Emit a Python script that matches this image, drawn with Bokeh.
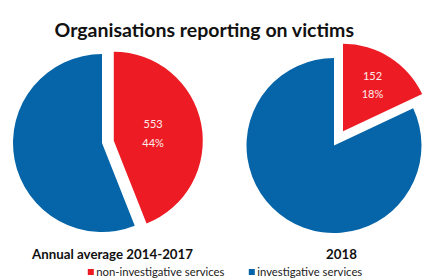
import math
from bokeh.plotting import figure
from bokeh.models import Range1d
from bokeh.core.properties import value
from bokeh.embed import file_html
from bokeh.resources import INLINE

# ---- data ----
title_text = "Organisations reporting on victims"
periods = ["Annual average 2014-2017", "2018"]
non_investigative_counts = [553, 152]
non_investigative_share = [44, 18]          # percent
legend_labels = ["non-investigative services", "investigative services"]

# ---- styling ----
RED = "#ED1C24"
BLUE = "#0565A8"
W, H = 423, 280
centers = [(101.5, 137.5), (333.5, 135.0)]
radii = [89.0, 87.5]
explode = [12.0, 16.8]
label_r = [40.0, 55.0]
sub_x = [112, 341]
FONT = "Lato"

p = figure(width=W, height=H, output_backend="svg", toolbar_location=None,
           x_range=Range1d(0, W), y_range=Range1d(0, H), min_border=0)
p.axis.visible = False
p.grid.visible = False
p.outline_line_color = None
p.background_fill_color = "white"
p.border_fill_color = "white"

for i in range(2):
    cx, cy = centers[i]
    r = radii[i]
    frac = non_investigative_share[i] / 100.0
    red_start = math.radians(90 - 360 * frac)
    red_end = math.radians(90)
    mid = (red_start + red_end) / 2
    ox, oy = explode[i] * math.cos(mid), explode[i] * math.sin(mid)
    # investigative (blue) part
    p.wedge(x=[cx], y=[cy], radius=r, start_angle=red_end, end_angle=red_start + 2 * math.pi,
            direction="anticlock", fill_color=BLUE, line_color=None)
    # non-investigative (red) part, exploded
    p.wedge(x=[cx + ox], y=[cy + oy], radius=r, start_angle=red_start, end_angle=red_end,
            direction="anticlock", fill_color=RED, line_color=None)
    lx = cx + ox + label_r[i] * math.cos(mid)
    ly = cy + oy + label_r[i] * math.sin(mid)
    p.text(x=[lx, lx], y=[ly + 9, ly - 9],
           text=[str(non_investigative_counts[i]), f"{non_investigative_share[i]}%"],
           text_align="center", text_baseline="middle", text_color="#FDECEC",
           text_font=value(FONT), text_font_size="11px")
    p.text(x=[sub_x[i]], y=[26.7], text=[periods[i]], text_align="center",
           text_baseline="alphabetic", text_color="#111111",
           text_font=value(FONT), text_font_size="13.3px", text_font_style="bold")

p.text(x=[204], y=[250.7], text=[title_text], text_align="center",
       text_baseline="alphabetic", text_color="#111111",
       text_font=value(FONT), text_font_size="19.5px", text_font_style="bold")

# legend
leg_x = [90.3, 251.3]
leg_colors = [RED, BLUE]
p.rect(x=leg_x, y=[8.5, 8.5], width=6, height=6, fill_color=leg_colors, line_color=None)
p.text(x=[x + 5.5 for x in leg_x], y=[9, 9], text=legend_labels,
       text_align="left", text_baseline="middle", text_color="#222222",
       text_font=value(FONT), text_font_size="11.3px")

open("out.html", "w").write(file_html(p, INLINE))
